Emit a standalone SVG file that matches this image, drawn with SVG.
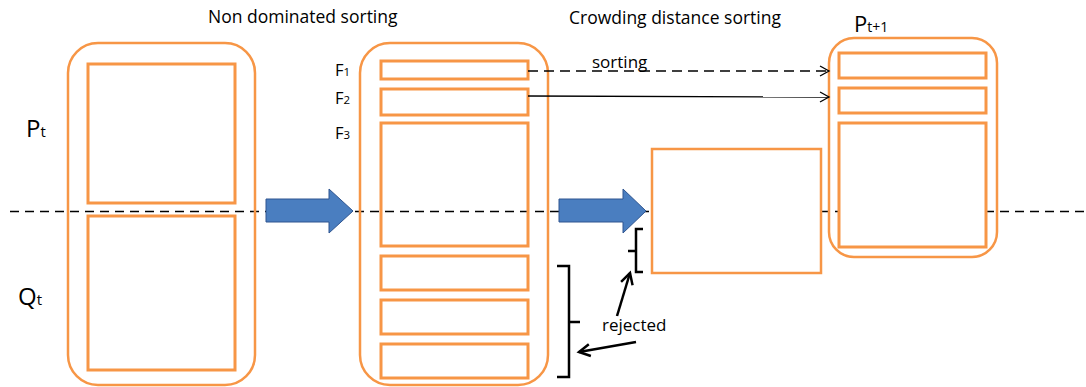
<svg xmlns="http://www.w3.org/2000/svg" width="1086" height="387" viewBox="0 0 1086 387">
<defs>
<style>
.box{fill:none;stroke:#F79646;stroke-width:2.5}
.wbox{fill:#fff;stroke:#F79646;stroke-width:2.5}
.inner{fill:none;stroke:#F79646;stroke-width:3}
.winner{fill:#fff;stroke:#F79646;stroke-width:3}
.t{font-family:"Open Sans","Liberation Sans",sans-serif;fill:#000}
.big{fill:#4A7EC0;stroke:#2F5590;stroke-width:1}
.brk{fill:none;stroke:#000;stroke-width:2.5}
</style>
<marker id="open" markerWidth="12" markerHeight="12" refX="10" refY="6" orient="auto" markerUnits="userSpaceOnUse">
<path d="M1,1 L10,6 L1,11" fill="none" stroke="#000" stroke-width="1.3"/>
</marker>
<marker id="thick" markerWidth="16" markerHeight="16" refX="13" refY="8" orient="auto" markerUnits="userSpaceOnUse">
<path d="M2,2 L13,8 L2,14" fill="none" stroke="#000" stroke-width="2.5"/>
</marker>
</defs>
<rect width="1086" height="387" fill="#fff"/>
<text class="t" x="208" y="23" font-size="17.5">Non dominated sorting</text>
<text class="t" x="569" y="24" font-size="17.5">Crowding distance sorting</text>
<text class="t" x="26" y="137" font-size="24">P<tspan font-size="15">t</tspan></text>
<text class="t" x="18" y="305" font-size="24">Q<tspan font-size="15">t</tspan></text>
<g id="connectors">
<line x1="10" y1="211.5" x2="1086" y2="211.5" stroke="#000" stroke-width="1.3" stroke-dasharray="9,6"/>
</g>
<g id="pt_qt">
<rect class="box" x="68" y="43" width="187" height="342" rx="30"/>
<rect class="inner" x="88" y="64" width="147" height="139"/>
<rect class="inner" x="88" y="216" width="147" height="154"/>
</g>
<g id="fronts">
<rect class="box" x="360" y="43" width="188" height="342" rx="30"/>
<rect class="inner" x="381" y="61" width="147" height="18"/>
<rect class="inner" x="381" y="89" width="147" height="26"/>
<rect class="inner" x="381" y="123" width="147" height="123"/>
<rect class="inner" x="381" y="256" width="147" height="34"/>
<rect class="inner" x="381" y="300" width="147" height="34"/>
<rect class="inner" x="381" y="344" width="147" height="34"/>
<text class="t" x="335" y="76" font-size="16.5">F<tspan font-size="11.5">1</tspan></text>
<text class="t" x="335" y="104" font-size="16.5">F<tspan font-size="11.5">2</tspan></text>
<text class="t" x="335" y="139" font-size="16.5">F<tspan font-size="11.5">3</tspan></text>
</g>
<g id="crowding">
<rect class="wbox" x="652" y="149" width="169" height="124"/>
</g>
<g id="pt1">
<rect class="box" x="829" y="38" width="168" height="219" rx="25"/>
<rect class="inner" x="839" y="53" width="147" height="25"/>
<rect class="inner" x="839" y="88" width="147" height="25"/>
<rect class="winner" x="839" y="123" width="147" height="124"/>
<text class="t" x="854" y="32" font-size="22">P<tspan font-size="14">t+1</tspan></text>
</g>
<g id="arrows">
<path class="big" d="M266,199 L329,199 L329,189 L353,211 L329,233 L329,222 L266,222 Z"/>
<path class="big" d="M559,199 L623,199 L623,189 L646,211 L623,233 L623,222 L559,222 Z"/>
<line x1="528" y1="71" x2="829" y2="71" stroke="#000" stroke-width="1.3" stroke-dasharray="10,6" marker-end="url(#open)"/>
<line x1="528" y1="96" x2="829" y2="97" stroke="#000" stroke-width="1.3" marker-end="url(#open)"/>
<text class="t" x="592" y="68" font-size="17">sorting</text>
<path class="brk" d="M557,266 L569,266 L569,377 L557,377 M569,322 L580,322"/>
<path class="brk" d="M643,229 L636,229 L636,272 L643,272 M636,251 L628,251"/>
<text class="t" x="602" y="331" font-size="17">rejected</text>
<line x1="617" y1="316" x2="630" y2="273" stroke="#000" stroke-width="2.5" marker-end="url(#thick)"/>
<line x1="636" y1="342" x2="579" y2="352" stroke="#000" stroke-width="2.5" marker-end="url(#thick)"/>
</g>
</svg>
